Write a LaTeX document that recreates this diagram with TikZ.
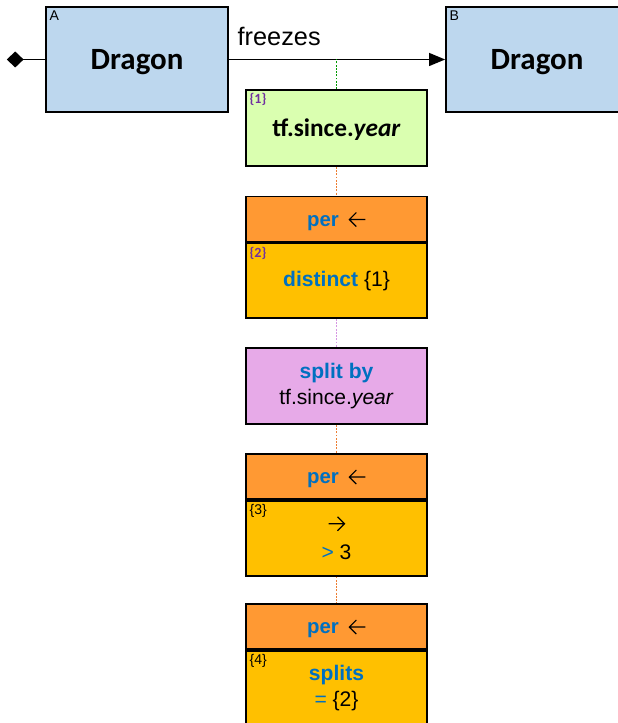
\documentclass[tikz,border=0pt]{standalone}
\usepackage{fontspec}
\setmainfont{Liberation Sans}
\newfontfamily\carlito{Carlito}
\usetikzlibrary{arrows.meta, positioning, calc}
\usepackage{xcolor}
\definecolor{conceptblue}{RGB}{189,215,238}
\definecolor{tfgreen}{RGB}{218,255,176}
\definecolor{perhead}{RGB}{255,153,51}
\definecolor{perbody}{RGB}{255,192,0}
\definecolor{splitfill}{RGB}{231,170,232}
\definecolor{kwblue}{RGB}{0,112,192}
\definecolor{refpurple}{RGB}{112,48,160}
\definecolor{lnkgreen}{RGB}{0,153,0}
\definecolor{lnkorange}{RGB}{237,125,49}
\definecolor{lnkpurple}{RGB}{214,150,226}
\newcommand{\kw}[1]{\textcolor{kwblue}{\bfseries #1}}
% chevron arrows as in the operator boxes
\newcommand{\larr}{\hspace{3pt}\tikz[baseline=-0.6ex, line width=0.8pt]
  \draw (0.4,0) -- (0,0) (0.175,0.175) -- (0,0) -- (0.175,-0.175);}
\newcommand{\rarr}{\tikz[baseline=-0.6ex, line width=0.8pt]
  \draw (0,0) -- (0.4,0) (0.225,0.175) -- (0.4,0) -- (0.225,-0.175);}

\begin{document}
\begin{tikzpicture}[
  concept/.style={draw, line width=1.2pt, fill=conceptblue, minimum width=4.55cm,
  minimum height=2.625cm, text depth=0pt, font=\carlito\bfseries\fontsize{22}{26}\selectfont},
  opbox/.style={draw, line width=1.2pt, minimum width=4.525cm, align=center},
  head/.style={opbox, fill=perhead, minimum height=1.125cm, text depth=0pt, font=\fontsize{14.5}{17}\selectfont},
  body/.style={opbox, fill=perbody, minimum height=1.875cm, font=\fontsize{15}{19}\selectfont},
  tag/.style={anchor=north west, inner sep=3pt, font=\fontsize{10}{11}\selectfont},
  ptag/.style={tag, text=refpurple, font=\carlito\bfseries\fontsize{10}{11}\selectfont},
  link/.style={densely dotted, line width=1.3pt},
  rel/.style={line width=1.2pt}
]
\useasboundingbox (0,0) rectangle (15.45,18.075);

% concepts
\node[concept, label={[tag]north west:A}] (dragA) at (3.425,16.5875) {Dragon};
\node[concept, label={[tag]north west:B}] (dragB) at (13.425,16.5875) {Dragon};
\coordinate (src) at (0.17,16.5875);

\draw[rel, {Diamond[length=0.42cm, width=0.4cm]}-] (src) -- (dragA);
\draw[rel, -{Triangle[length=0.4cm, width=0.32cm]}] (dragA) --
  node[pos=0, anchor=base west, inner sep=0pt, xshift=0.2cm, yshift=0.35cm,
  font=\fontsize{18}{21}\selectfont] (frz) {freezes} (dragB);

% operator chain
\node[opbox, fill=tfgreen, minimum height=1.9cm, text depth=0pt,
  font=\carlito\bfseries\fontsize{18}{21}\selectfont,
  label={[ptag]north west:\{1\}}] (tfyear) at (8.4125,14.875) {tf.since.\textit{year}};

\node[head] (per1) at (8.4125,12.6) {\kw{per} \larr};
\node[body, below=0pt of per1, label={[ptag]north west:\{2\}}] (dist) {\kw{distinct} \{1\}};

\node[opbox, fill=splitfill, minimum height=1.9cm, font=\fontsize{15}{19}\selectfont]
  (split) at (8.4125,8.425) {\kw{split by}\\tf.since.\textit{year}};

\node[head] (per2) at (8.4125,6.1625) {\kw{per} \larr};
\node[body, below=0pt of per2, label={[tag]north west:\{3\}}] (cnt) {\rarr\\[2pt]\textcolor{kwblue}{>} 3};

\node[head] (per3) at (8.4125,2.4125) {\kw{per} \larr};
\node[body, below=0pt of per3, label={[tag]north west:\{4\}}] (spl) {\kw{splits}\\\textcolor{kwblue}{=} \{2\}};

% dotted links
\draw[link, lnkgreen] (tfyear.north) -- (tfyear.north |- dragA.east);
\draw[link, lnkorange] (tfyear) -- (per1);
\draw[link, lnkpurple] (dist) -- (split);
\draw[link, lnkorange] (split) -- (per2);
\draw[link, lnkorange] (cnt) -- (per3);
\end{tikzpicture}
\end{document}
